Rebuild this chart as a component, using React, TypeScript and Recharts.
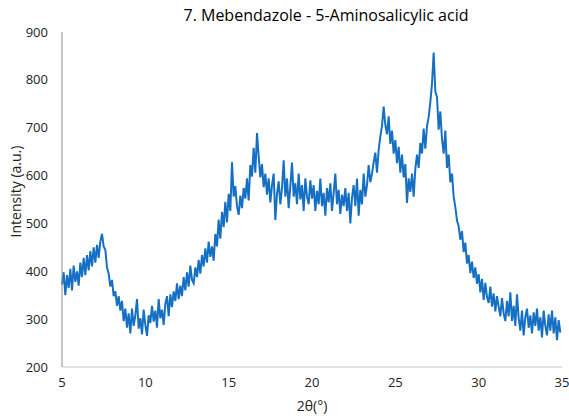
import { Line, LineChart, XAxis, YAxis, Label } from "recharts";

// 2θ sampling used for the intensity arrays below
const START_ANGLE = 5;
const STEP = 0.1;

// Intensity (a.u.), one array per 5° span
const int5to10 = [
	372, 398, 350, 392, 365, 405, 360, 412, 378, 400,
	370, 418, 388, 428, 392, 434, 402, 442, 410, 450,
	418, 455, 428, 462, 478, 452, 445, 408, 395, 368,
	382, 348, 358, 328, 348, 318, 338, 296, 322, 282,
	312, 270, 322, 286, 308, 342, 280, 302, 268, 320,
];
const int10to15 = [
	288, 265, 308, 292, 328, 295, 318, 282, 342, 302,
	320, 288, 332, 348, 306, 352, 325, 358, 338, 375,
	342, 370, 348, 388, 360, 398, 368, 412, 382, 375,
	408, 388, 424, 395, 434, 410, 448, 418, 462, 430,
	452, 422, 478, 452, 508, 468, 524, 492, 545, 502,
];
const int15to20 = [
	562, 526, 628, 556, 578, 536, 518, 558, 532, 574,
	552, 594, 548, 622, 598, 658, 606, 689, 640, 596,
	624, 576, 604, 560, 594, 544, 580, 604, 507, 562,
	588, 540, 574, 632, 556, 594, 532, 578, 627, 556,
	584, 540, 604, 550, 580, 526, 594, 556, 540, 590,
];
const int20to25 = [
	552, 580, 526, 568, 540, 594, 536, 564, 516, 574,
	544, 584, 526, 564, 604, 540, 570, 520, 560, 536,
	574, 526, 564, 500, 554, 580, 536, 594, 516, 570,
	540, 604, 556, 580, 622, 586, 604, 628, 648, 606,
	654, 682, 704, 744, 706, 686, 724, 666, 694, 646,
];
const int25to30 = [
	674, 626, 660, 606, 644, 596, 624, 543, 594, 566,
	604, 556, 614, 644, 616, 668, 646, 698, 656, 704,
	722, 754, 792, 857, 776, 764, 696, 734, 676, 646,
	694, 616, 644, 586, 604, 556, 534, 506, 494, 466,
	484, 440, 460, 416, 434, 396, 420, 386, 408, 374,
];
const int30to35 = [
	394, 356, 384, 340, 376, 346, 334, 368, 326, 354,
	316, 348, 326, 306, 344, 312, 296, 338, 306, 356,
	296, 328, 286, 352, 302, 276, 318, 266, 304, 322,
	282, 308, 270, 314, 286, 322, 276, 304, 262, 318,
	286, 266, 310, 276, 318, 270, 304, 256, 298, 272,
];

const xTicks = [5, 10, 15, 20, 25, 30, 35];
const yTicks = [200, 300, 400, 500, 600, 700, 800, 900];

const intensity = [
	...int5to10,
	...int10to15,
	...int15to20,
	...int20to25,
	...int25to30,
	...int30to35,
];

const data = intensity.map((value, i) => ({
	angle: Math.round((START_ANGLE + i * STEP) * 10) / 10,
	value,
}));

const FONT = "'Open Sans', sans-serif";

export default function App() {
	return (
		<div
			style={{
				position: "absolute",
				left: 0,
				top: 0,
				width: 569,
				height: 418,
				background: "#fff",
				fontFamily: FONT,
			}}
		>
			<div
				style={{
					position: "absolute",
					left: 0,
					width: 652,
					top: 4,
					textAlign: "center",
					fontSize: 16,
					lineHeight: "22px",
					color: "#000",
				}}
			>
				7. Mebendazole - 5-Aminosalicylic acid
			</div>
			<LineChart
				width={569}
				height={418}
				data={data}
				margin={{ top: 32, right: 7, left: 0, bottom: 0 }}
			>
				<XAxis
					dataKey="angle"
					type="number"
					domain={[5, 35]}
					ticks={xTicks}
					tickLine={false}
					axisLine={{ stroke: "#c8c8c8" }}
					tick={{ fill: "#222", fontSize: 13, fontFamily: FONT }}
					tickMargin={5}
					height={51}
				>
					<Label
						value="2θ(°)"
						position="insideBottom"
						offset={7}
						style={{ fill: "#222", fontSize: 14, fontFamily: FONT }}
					/>
				</XAxis>
				<YAxis
					type="number"
					domain={[200, 900]}
					ticks={yTicks}
					tickLine={false}
					axisLine={{ stroke: "#8c8c8c" }}
					tick={{ fill: "#222", fontSize: 13, fontFamily: FONT }}
					tickMargin={8}
					width={62}
				>
					<Label
						value="Intensity (a.u.)"
						angle={-90}
						position="insideLeft"
						offset={16}
						dy={-8}
						style={{
							fill: "#222",
							fontSize: 14,
							fontFamily: FONT,
							textAnchor: "middle",
						}}
					/>
				</YAxis>
				<Line
					type="linear"
					dataKey="value"
					stroke="#1570c4"
					strokeWidth={2}
					dot={false}
					isAnimationActive={false}
				/>
			</LineChart>
		</div>
	);
}
